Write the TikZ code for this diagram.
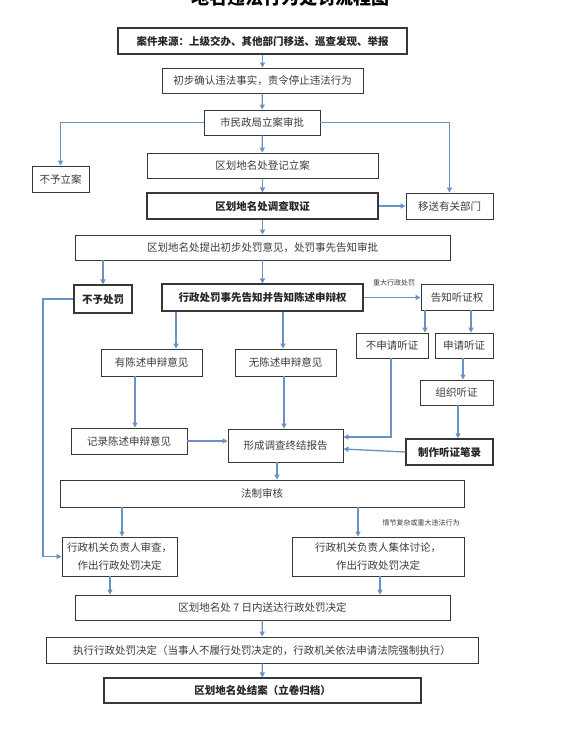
\documentclass[tikz,border=0pt]{standalone}
\usepackage{fontspec}
\newfontfamily\cjk{Noto Sans CJK SC}
\usetikzlibrary{arrows.meta}
\definecolor{arrblue}{RGB}{104,146,196}
\definecolor{boxline}{RGB}{55,55,55}
\definecolor{txt}{RGB}{60,60,60}
\newcommand\bx[6]{\node[#1,minimum width={#4-#2},minimum height={#5-#3}] (#6) at ({(#2+#4)/2},{(#3+#5)/2})}
\begin{document}
\begin{tikzpicture}[x=1pt,y=-1pt,
  box/.style={draw=boxline,line width=0.9pt,inner sep=0pt,text=txt,
    font=\cjk\fontsize{10.5}{12.5}\selectfont,align=center,text height=8pt,text depth=0pt},
  twoline/.style={text height=25.5pt,text depth=0pt},
  boldbox/.style={box,line width=1.1pt,text=black!85,font=\cjk\bfseries\fontsize{10.5}{12.5}\selectfont},
  arr/.style={draw=arrblue,line width=1.3pt,-{Triangle[length=5pt,width=5pt]}},
  small/.style={text=txt,font=\cjk\fontsize{7}{8}\selectfont,inner sep=0pt}]
\useasboundingbox (0,0) rectangle (581,729);
\fill[white] (0,0) rectangle (581,729);
% clipped title
\begin{scope}
\clip (0,0) rectangle (581,729);
\node[anchor=base,font=\cjk\bfseries\fontsize{18}{18}\selectfont,inner sep=0pt] (title) at (290,4.5) {地名违法行为处罚流程图};
\end{scope}
% boxes
\bx{boldbox}{118}{28}{407}{54}{src} {案件来源：上级交办、其他部门移送、巡查发现、举报};
\bx{box}{162}{68}{363}{93}{chk} {初步确认违法事实，责令停止违法行为};
\bx{box}{204}{110}{320}{135}{appr} {市民政局立案审批};
\bx{box}{32}{166}{89}{192}{noreg} {不予立案};
\bx{box}{406}{193}{493}{219}{transfer} {移送有关部门};
\bx{box}{147}{153}{378}{178}{reg} {区划地名处登记立案};
\bx{boldbox}{147}{193}{378}{219}{inv} {区划地名处调查取证};
\bx{box}{75}{235}{450}{260}{prop} {区划地名处提出初步处罚意见，处罚事先告知审批};
\bx{boldbox}{74}{285}{132}{313}{nopen} {不予处罚};
\bx{boldbox}{162}{284}{363}{311}{notice} {行政处罚事先告知并告知陈述申辩权};
\bx{box}{421}{284}{493}{310}{hear} {告知听证权};
\bx{box}{356}{333}{428}{358}{nohear} {不申请听证};
\bx{box}{435}{333}{493}{358}{apply} {申请听证};
\bx{box}{101}{349}{202}{376}{hasop} {有陈述申辩意见};
\bx{box}{235}{349}{336}{376}{noop} {无陈述申辩意见};
\bx{box}{420}{380}{493}{405}{org} {组织听证};
\bx{box}{71}{428}{187}{454}{rec} {记录陈述申辩意见};
\bx{box}{228}{429}{343}{462}{rep} {形成调查终结报告};
\bx{boldbox,line width=1.3pt}{406}{439}{493}{465}{note} {制作听证笔录};
\bx{box}{60}{480}{464}{507}{legal} {法制审核};
\bx{box,twoline}{62}{537}{177}{576}{dec1} {行政机关负责人审查，\\[5pt]作出行政处罚决定};
\bx{box,twoline}{292}{537}{464}{576}{dec2} {行政机关负责人集体讨论，\\[5pt]作出行政处罚决定};
\bx{box}{75}{595}{450}{620}{send} {区划地名处 7 日内送达行政处罚决定};
\bx{box}{46}{637}{478}{663}{exec} {执行行政处罚决定（当事人不履行处罚决定的，行政机关依法申请法院强制执行）};
\bx{boldbox}{104}{678}{421}{703}{close} {区划地名处结案（立卷归档）};
% labels
\node[small] (lab1) at (394,283) {重大行政处罚};
\node[small] (lab2) at (421,523) {情节复杂或重大违法行为};
% helper coordinates
\coordinate (c262) at (262.5,0);
\coordinate (c425) at (425,0);
\coordinate (c471) at (471,0);
\coordinate (c176) at (176,0);
\coordinate (c283) at (283,0);
\coordinate (c463) at (463,0);
\coordinate (c458) at (458,0);
\coordinate (k1) at (391,437);
\coordinate (c135) at (135,0);
\coordinate (c284) at (284,0);
\coordinate (c277) at (277,0);
\coordinate (c122) at (122,0);
\coordinate (c358) at (358,0);
\coordinate (c43) at (43,0);
\coordinate (c110) at (110,0);
\coordinate (c380) at (380,0);
\coordinate (y452) at (0,452);
\coordinate (y449) at (0,449);
% connectors
\draw[arr] (src) -- (chk);
\draw[arr] (chk) -- (appr);
\draw[arr] (appr) -- (reg);
\draw[arr] (appr.west) -| (noreg.north);
\draw[arr] (appr.east) -| (transfer.north);
\draw[arr] (reg) -- (inv);
\draw[arr] (inv.east) -- (transfer.west);
\draw[arr] (inv) -- (prop);
\draw[arr] (nopen.north |- prop.south) -- (nopen.north);
\draw[arr] (prop.south -| c262) -- (notice.north -| c262);
\draw[arr] (notice.east) -- (hear.west |- notice.east);
\draw[arr] (hear.south -| c425) -- (nohear.north -| c425);
\draw[arr] (hear.south -| c471) -- (apply.north -| c471);
\draw[arr] (notice.south -| c176) -- (hasop.north -| c176);
\draw[arr] (notice.south -| c283) -- (noop.north -| c283);
\draw[arr] (apply.south -| c463) -- (org.north -| c463);
\draw[arr] (org.south -| c458) -- (note.north -| c458);
\draw[arr] (nohear.south -| k1) -- (k1) -- (rep.east |- k1);
\draw[arr] (hasop.south -| c135) -- (rec.north -| c135);
\draw[arr] (noop.south -| c284) -- (rep.north -| c284);
\draw[arr] (rec.east) -- (rep.west |- rec.east);
\draw[arr] (note.west |- y452) -- (rep.east |- y449);
\draw[arr] (rep.south -| c277) -- (legal.north -| c277);
\draw[arr] (legal.south -| c122) -- (dec1.north -| c122);
\draw[arr] (legal.south -| c358) -- (dec2.north -| c358);
\draw[arr] (nopen.west) -- (nopen.west -| c43) -- (c43 |- dec1.west) -- (dec1.west);
\draw[arr] (dec1.south -| c110) -- (send.north -| c110);
\draw[arr] (dec2.south -| c380) -- (send.north -| c380);
\draw[arr] (send) -- (exec);
\draw[arr] (exec) -- (close);
\end{tikzpicture}
\end{document}
